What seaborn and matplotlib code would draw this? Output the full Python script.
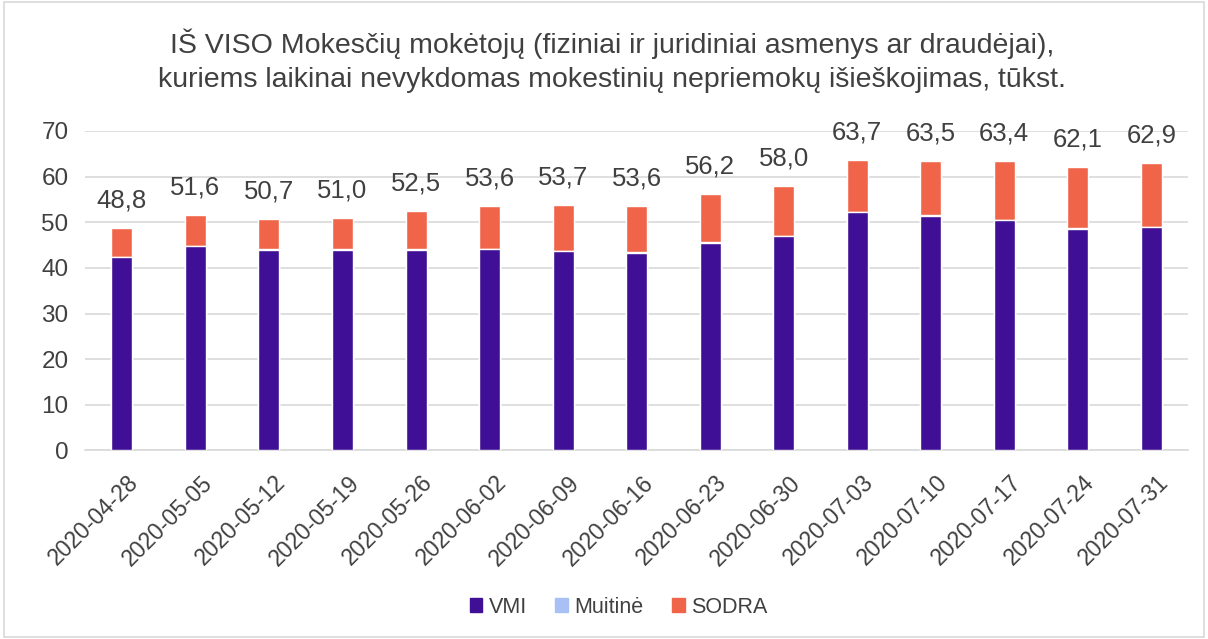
import matplotlib
matplotlib.use('Agg')
import matplotlib.pyplot as plt
import matplotlib.patches as mpatches
import matplotlib.transforms as mtransforms
import numpy as np
import pandas as pd
import seaborn as sns

# ============================================================
# Data (tūkst.)
# ============================================================
dates = ['2020-04-28', '2020-05-05', '2020-05-12', '2020-05-19', '2020-05-26',
         '2020-06-02', '2020-06-09', '2020-06-16', '2020-06-23', '2020-06-30',
         '2020-07-03', '2020-07-10', '2020-07-17', '2020-07-24', '2020-07-31']
vmi = [42.3, 44.8, 44.0, 44.0, 44.0, 44.1, 43.7, 43.3, 45.5, 47.0,
       52.2, 51.4, 50.5, 48.6, 48.9]
muitine = [0.1, 0.1, 0.1, 0.1, 0.2, 0.1, 0.1, 0.1, 0.1, 0.1,
           0.1, 0.1, 0.1, 0.1, 0.1]
totals = [48.8, 51.6, 50.7, 51.0, 52.5, 53.6, 53.7, 53.6, 56.2, 58.0,
          63.7, 63.5, 63.4, 62.1, 62.9]
sodra = [round(t - v - m, 1) for t, v, m in zip(totals, vmi, muitine)]

COL_VMI = '#3F1096'
COL_MUIT = '#A9C0F5'
COL_SODRA = '#F0654A'
TXT = '#404040'

df = pd.DataFrame({'date': dates, 'VMI': vmi, 'Muitinė': muitine, 'SODRA': sodra})
df['vmi_muit'] = df['VMI'] + df['Muitinė']
df['total'] = df['vmi_muit'] + df['SODRA']

sns.set_theme(style='white')
plt.rcParams['font.family'] = ['Liberation Sans', 'DejaVu Sans']

fig = plt.figure(figsize=(12.08, 6.39), dpi=100)
ax = fig.add_axes([0.0705, 0.295, 0.913, 0.5])

# layered bars give the stacked look
sns.barplot(data=df, x='date', y='total', color=COL_SODRA, width=0.286,
            saturation=1, ax=ax, zorder=2)
sns.barplot(data=df, x='date', y='vmi_muit', color=COL_MUIT, width=0.286,
            saturation=1, ax=ax, zorder=3)
sns.barplot(data=df, x='date', y='VMI', color=COL_VMI, width=0.286,
            saturation=1, ax=ax, zorder=4)

for i, t in enumerate(totals):
    ax.text(i, t + 3.4, f'{t:.1f}'.replace('.', ','), ha='center', va='bottom',
            fontsize=18.5, color=TXT)

ax.set_ylim(0, 70)
ax.set_yticks(range(0, 71, 10))
ax.set_xlim(-0.5, len(dates) - 0.5)
ax.yaxis.grid(True, color='#D9D9D9', linewidth=1.2, zorder=0)
ax.set_axisbelow(True)
for s in ['top', 'right', 'left']:
    ax.spines[s].set_visible(False)
ax.spines['bottom'].set_color('#D9D9D9')
ax.spines['bottom'].set_linewidth(1.2)
ax.set_xlabel('')
ax.set_ylabel('')
ax.tick_params(axis='y', labelsize=17.5, colors=TXT, length=0, pad=12)
ax.tick_params(axis='x', labelsize=16.5, colors=TXT, length=0, pad=4)
ax.set_xticks(np.arange(len(dates) + 1) - 0.5, minor=True)
ax.tick_params(axis='x', which='minor', length=6, color='#D9D9D9', width=1.2)
shift = mtransforms.ScaledTranslation(5 / 100, -15 / 100, fig.dpi_scale_trans)
for lbl in ax.get_xticklabels():
    lbl.set_rotation(45)
    lbl.set_ha('right')
    lbl.set_rotation_mode('anchor')
    lbl.set_transform(lbl.get_transform() + shift)

fig.suptitle('IŠ VISO Mokesčių mokėtojų (fiziniai ir juridiniai asmenys ar draudėjai),\n'
             'kuriems laikinai nevykdomas mokestinių nepriemokų išieškojimas, tūkst.',
             x=0.507, y=0.955, fontsize=20.5, color=TXT, linespacing=1.4)

handles = [mpatches.Patch(color=COL_VMI, label='VMI'),
           mpatches.Patch(color=COL_MUIT, label='Muitinė'),
           mpatches.Patch(color=COL_SODRA, label='SODRA')]
leg = fig.legend(handles=handles, loc='center', bbox_to_anchor=(0.512, 0.05),
                 ncol=3, frameon=False, fontsize=15.5, handlelength=0.6,
                 handleheight=0.6, handletextpad=0.3, columnspacing=1.3)
for t in leg.get_texts():
    t.set_color(TXT)

fig.patches.append(mpatches.Rectangle((0.003, 0.003), 0.994, 0.994,
                                      transform=fig.transFigure, fill=False,
                                      edgecolor='#D9D9D9', linewidth=1.2))

fig.savefig('out.png', dpi=100)
